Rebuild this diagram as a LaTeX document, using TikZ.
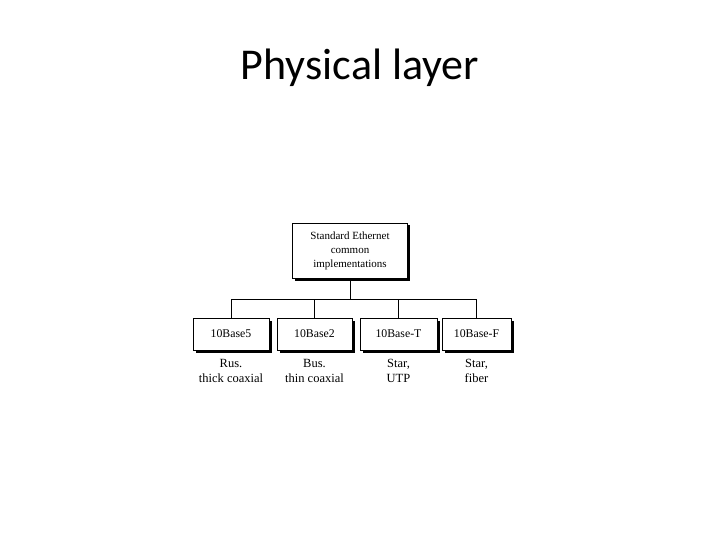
\documentclass[tikz,border=0pt]{standalone}
\usepackage{fontspec}
\setmainfont{Liberation Serif}
\newfontfamily\titlefont{Carlito}
\usetikzlibrary{positioning,shadows}

\begin{document}
\begin{tikzpicture}[x=1pt,y=-1pt,
    implbox/.style={draw, thin, fill=white, align=center, inner sep=0pt,
      minimum height=32pt, font=\fontsize{11.8}{14}\selectfont,
      drop shadow={shadow xshift=2.5pt, shadow yshift=-2.5pt, opacity=1, fill=black}},
    note/.style={align=center, inner sep=0pt, font=\fontsize{12.5}{15}\selectfont}]
    \useasboundingbox (0,0) rectangle (720,540);
    \node[font=\titlefont\fontsize{44}{50}\selectfont] (title) at (360,68) {Physical layer};
    % root box
    \node[implbox, minimum width=115pt, minimum height=55pt,
          font=\fontsize{11}{14}\selectfont] (std) at (350,250.5)
        {Standard Ethernet\\common\\implementations};
    % the four implementations
    \node[implbox, minimum width=76pt] (b5) at (231,334) {10Base5};
    \node[implbox, minimum width=75pt] (b2) at (314.5,334) {10Base2};
    \node[implbox, minimum width=77pt] (bt) at (398.5,334) {10Base-T};
    \node[implbox, minimum width=69pt] (bf) at (476.5,334) {10Base-F};
    \node[note, below=9pt of b5] (n5) {Rus.\\thick coaxial};
    \node[note, below=9pt of b2] (n2) {Bus.\\thin coaxial};
    \node[note, below=9pt of bt] (nt) {Star,\\UTP};
    \node[note, below=9pt of bf] (nf) {Star,\\fiber};
    % tree lines
    \coordinate (split) at (350,299);
    \draw (std.south) -- (split);
    \foreach \n in {b5,b2,bt,bf}
        \draw (split) -| (\n.north);
\end{tikzpicture}
\end{document}
